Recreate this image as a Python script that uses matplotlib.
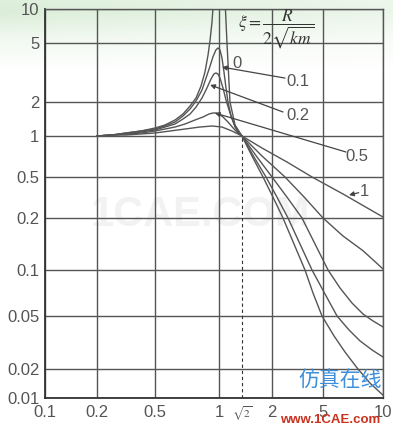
import numpy as np
import matplotlib
matplotlib.use('Agg')
import matplotlib.pyplot as plt

SQ2 = np.sqrt(2)

# axis ticks as printed on the chart
x_ticks = [0.1, 0.2, 0.5, 1, 2, 5, 10]
x_tick_labels = ['0.1', '0.2', '0.5', '1', '2', '5', '10']
y_ticks = [0.01, 0.02, 0.05, 0.1, 0.2, 0.5, 1, 2, 5, 10]
y_tick_labels = ['0.01', '0.02', '0.05', '0.1', '0.2', '0.5', '1', '2', '5', '10']

# frequency ratio r / transmissibility T
r_z0_left = [0.2, 0.2535, 0.316, 0.4006, 0.5, 0.557, 0.621, 0.677, 0.731, 0.780,
             0.823, 0.859, 0.888, 0.908, 0.927, 0.936, 0.946]
T_z0_left = [1.0, 1.021, 1.063, 1.107, 1.177, 1.251, 1.386, 1.566, 1.844, 2.13,
             2.563, 3.187, 4.15, 5.31, 7.67, 10.0, 12.0]
r_z0_right = [1.095, 1.128, 1.180, 1.273, 1.414, 1.587, 1.803, 2.036, 2.437, 2.970,
              3.618, 4.178, 4.911, 5.68, 6.45, 7.41, 8.60, 10]
T_z0_right = [12.0, 5.0, 2.0, 1.251, 1.0, 0.713, 0.5, 0.3186, 0.2, 0.1414,
              0.1, 0.0707, 0.05, 0.0354, 0.0268, 0.0204, 0.0143, 0.0107]

r_z01 = [0.2, 0.2535, 0.316, 0.4006, 0.5, 0.557, 0.621, 0.677, 0.731, 0.780,
         0.832, 0.869, 0.908, 0.936, 0.967, 0.989, 1.015, 1.046, 1.078, 1.111,
         1.145, 1.198, 1.273, 1.331, 1.414, 1.624, 1.866, 2.188, 2.666, 3.307,
         4.105, 5.12, 5.88, 6.75, 7.67, 8.81, 10]
T_z01 = [1.0, 1.021, 1.063, 1.107, 1.153, 1.226, 1.330, 1.504, 1.735, 2.032,
         2.41, 2.90, 3.498, 4.023, 4.49, 4.63, 4.49, 3.961, 3.187, 2.49,
         2.0, 1.504, 1.201, 1.085, 1.0, 0.701, 0.5, 0.3186, 0.2, 0.1414,
         0.1, 0.0696, 0.05, 0.0393, 0.0325, 0.0278, 0.0246]

r_z02 = [0.2, 0.2535, 0.316, 0.4006, 0.5, 0.557, 0.621, 0.677, 0.731, 0.780,
         0.832, 0.878, 0.917, 0.946, 0.967, 0.989, 1.015, 1.062, 1.111, 1.180,
         1.273, 1.331, 1.414, 1.682, 2.0, 2.619, 3.428, 4.332, 5.30, 6.085,
         6.99, 7.94, 8.91, 10]
T_z02 = [1.0, 1.021, 1.042, 1.085, 1.130, 1.201, 1.277, 1.414, 1.566, 1.806,
         2.13, 2.49, 2.859, 3.09, 3.14, 3.09, 2.90, 2.49, 2.063, 1.598,
         1.226, 1.107, 1.0, 0.701, 0.5, 0.3186, 0.2, 0.1414, 0.1, 0.0763,
         0.0608, 0.0515, 0.0459, 0.0414]

r_z05 = [0.2, 0.2535, 0.316, 0.4006, 0.5, 0.557, 0.621, 0.692, 0.771, 0.841,
         0.897, 0.936, 0.967, 1.0, 1.062, 1.145, 1.254, 1.331, 1.414, 1.782,
         2.526, 3.557, 5.0, 6.30, 7.94, 10]
T_z05 = [1.0, 1.021, 1.042, 1.063, 1.107, 1.153, 1.201, 1.277, 1.386, 1.473,
         1.566, 1.598, 1.598, 1.566, 1.473, 1.330, 1.153, 1.063, 1.0, 0.713,
         0.5, 0.320, 0.2, 0.1573, 0.1293, 0.1014]

r_z1 = [0.2, 0.2535, 0.316, 0.4006, 0.5, 0.588, 0.692, 0.814, 0.927, 1.046,
        1.216, 1.414, 1.782, 2.619, 4.105, 6.30, 10]
T_z1 = [1.0, 1.021, 1.021, 1.042, 1.063, 1.107, 1.153, 1.201, 1.226, 1.201,
        1.107, 1.0, 0.816, 0.644, 0.5, 0.342, 0.2044]

curves = [(r_z0_left, T_z0_left), (r_z0_right, T_z0_right), (r_z01, T_z01),
          (r_z02, T_z02), (r_z05, T_z05), (r_z1, T_z1)]


def warped_log(breaks, pos):
    # the original grid is hand drawn: decades are not evenly spaced,
    # so map log10(value) piecewise onto the measured gridline positions
    lb = np.log10(np.asarray(breaks, float))
    p = np.asarray(pos, float)
    s0 = (p[1] - p[0]) / (lb[1] - lb[0])
    s1 = (p[-1] - p[-2]) / (lb[-1] - lb[-2])

    def fwd(v):
        v = np.asarray(v, float)
        with np.errstate(all='ignore'):
            lv = np.log10(np.where(v > 0, v, np.nan))
        out = np.interp(lv, lb, p)
        out = np.where(lv < lb[0], p[0] + (lv - lb[0]) * s0, out)
        out = np.where(lv > lb[-1], p[-1] + (lv - lb[-1]) * s1, out)
        return out

    def inv(u):
        u = np.asarray(u, float)
        lv = np.interp(u, p, lb)
        lv = np.where(u < p[0], lb[0] + (u - p[0]) / s0, lv)
        lv = np.where(u > p[-1], lb[-1] + (u - p[-1]) / s1, lv)
        return 10 ** lv

    return fwd, inv


x_fwd, x_inv = warped_log([0.1, 0.2, 0.5, 1, SQ2, 2, 5, 10], [0, 52, 110, 174, 197, 227, 278, 338])
y_fwd, y_inv = warped_log(y_ticks, [0, 29, 82, 128, 180, 221, 262, 296, 355, 389])

plt.rcParams['font.family'] = ['Liberation Sans', 'DejaVu Sans']
plt.rcParams['mathtext.fontset'] = 'stix'

W, H = 393, 428
fig = plt.figure(figsize=(W / 100, H / 100), dpi=100)
fig.patch.set_facecolor('white')

# pale green wash along the top of the picture
bg = fig.add_axes([0, 0, 1, 1], zorder=-5)
bg.set_axis_off()
rows = np.arange(H)
alpha = np.clip(np.interp(rows, [0, 12, 40, 70], [0.45, 0.5, 0.18, 0.0]), 0, 1)
cols = np.linspace(1.0, 0.55, W)
img = np.zeros((H, W, 4))
img[..., 0] = 0.72
img[..., 1] = 0.87
img[..., 2] = 0.70
img[..., 3] = alpha[:, None] * cols[None, :]
bg.imshow(img, extent=[0, 1, 0, 1], aspect='auto', origin='upper')
bg.set_xlim(0, 1)
bg.set_ylim(0, 1)

ax = fig.add_axes([45 / W, 30 / H, 338 / W, 389 / H])
ax.set_facecolor('none')
ax.set_xscale('function', functions=(x_fwd, x_inv))
ax.set_yscale('function', functions=(y_fwd, y_inv))
ax.set_xlim(0.1, 10)
ax.set_ylim(0.01, 10)

ax.set_xticks(x_ticks)
ax.set_xticklabels(x_tick_labels)
ax.set_xticks([SQ2], minor=True)
ax.set_xticklabels([r'$\sqrt{2}$'], minor=True, fontsize=8, color='#333333')
ax.set_yticks(y_ticks)
ax.set_yticklabels(y_tick_labels)
ax.set_yticks([], minor=True)
ax.tick_params(which='both', length=0, labelsize=12, labelcolor='#555555')
ax.tick_params(axis='x', which='major', pad=5)
ax.tick_params(axis='x', which='minor', pad=5, labelsize=8)
ax.tick_params(axis='y', pad=4)

ax.grid(True, which='major', color='#555555', linewidth=1.0)
for side, sp in ax.spines.items():
    sp.set_color('#555555')
    sp.set_linewidth(1.0)
for side in ('left', 'bottom'):
    ax.spines[side].set_color('#333333')
    ax.spines[side].set_linewidth(1.3)

for r, t in curves:
    ax.plot(r, t, color='#555555', linewidth=1.0, zorder=3)

ax.vlines(SQ2, 0.01, 1.0, colors='#333333', linewidth=0.8, linestyles=(0, (3, 2.5)), zorder=3)

lab = dict(fontsize=12, color='#555555', ha='center', va='center', zorder=4)
ax.text(1.311, 3.66, '0', **lab)
ax.text(3.19, 2.77, '0.1', **lab)
ax.text(3.19, 1.534, '0.2', **lab)
ax.text(7.41, 0.713, '0.5', **lab)
ax.text(8.1, 0.358, '1', **lab)

arrow = dict(arrowstyle='-|>', color='#444444', lw=0.9, mutation_scale=7, shrinkA=0, shrinkB=0)
ax.annotate('', xy=(1.046, 3.44), xytext=(2.526, 2.90), arrowprops=arrow)
ax.annotate('', xy=(0.908, 2.61), xytext=(2.437, 1.631), arrowprops=arrow)
ax.annotate('', xy=(0.956, 1.598), xytext=(6.52, 0.763), arrowprops=arrow)
ax.annotate('', xy=(6.75, 0.334), xytext=(7.55, 0.352), arrowprops=arrow)

fig.text(276 / W, 1 - 29 / H, r'$\xi=\dfrac{R}{2\sqrt{km}}$', fontsize=12.5,
         color='#333333', ha='center', va='center')

# site watermarks
fig.text(200 / W, 1 - 215 / H, '1CAE.COM', fontsize=30, fontweight='bold',
         color='#f2f2f2', ha='center', va='center', zorder=-1)
fig.text(340 / W, 1 - 381 / H, '仿真在线', fontsize=15, color='#3d8fdc',
         ha='center', va='center', family=['Noto Sans CJK SC', 'DejaVu Sans'])
fig.text(330 / W, 2 / H, 'www.1CAE.com', fontsize=9.5, fontweight='bold',
         color='#c8321e', ha='center', va='bottom')

fig.savefig('out.png', dpi=100)
